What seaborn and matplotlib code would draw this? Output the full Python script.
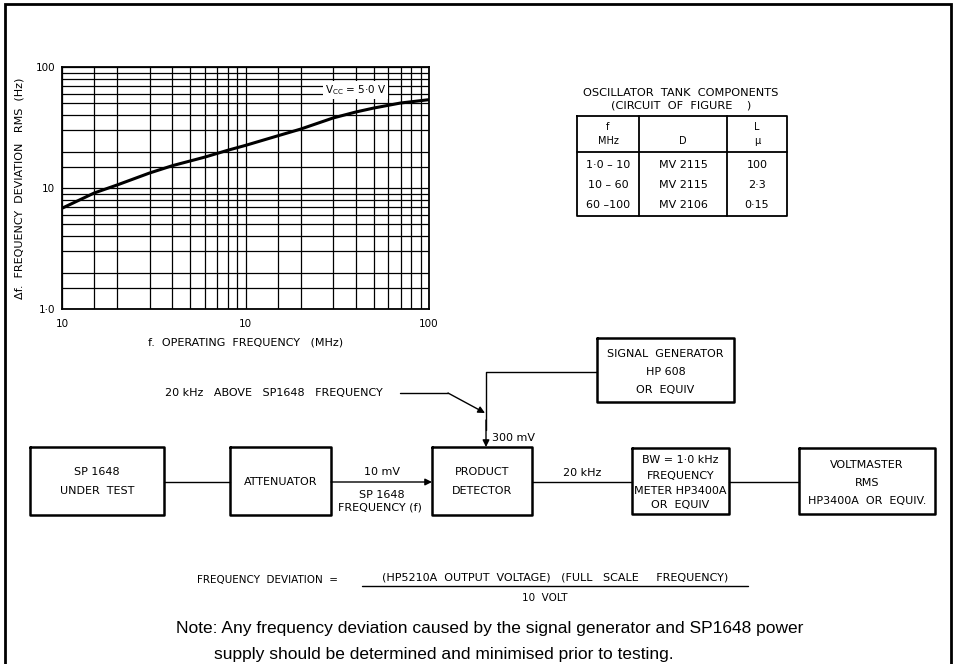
import numpy as np
import pandas as pd
import matplotlib
matplotlib.use("Agg")
import matplotlib.pyplot as plt
import seaborn as sns
from matplotlib.ticker import FixedLocator, NullFormatter

# curve: RMS frequency deviation vs operating frequency
freq_mhz = [1, 1.5, 2, 3, 4, 6, 8, 10, 15, 20, 30, 40, 50, 70, 100]
deviation_hz = [6.8, 9.1, 10.6, 13.3, 15.3, 18.0, 20.5, 22.5, 27.0, 30.7, 37.9, 42.5, 45.8, 50.4, 53.7]

x_tick_labels = ["10", "10", "100"]
y_tick_labels = ["1·0", "10", "100"]

# oscillator tank components table
tank_f = ["1·0 – 10", "10 – 60", "60 –100"]
tank_d = ["MV 2115", "MV 2115", "MV 2106"]
tank_l = ["100", "2·3", "0·15"]

sns.set_style("white")
plt.rcParams["font.family"] = ["DejaVu Sans"]
plt.rcParams["text.color"] = "black"
plt.rcParams["axes.labelcolor"] = "black"
plt.rcParams["xtick.color"] = "black"
plt.rcParams["ytick.color"] = "black"
NOTE_FONT = ["Liberation Sans Narrow", "Liberation Sans", "DejaVu Sans"]

fig = plt.figure(figsize=(9.56, 6.64), dpi=100)

# canvas for the block diagram, in pixel coordinates
ax0 = fig.add_axes([0, 0, 1, 1])
ax0.set_xlim(0, 956)
ax0.set_ylim(664, 0)
ax0.axis("off")

# frame
ax0.plot([5, 5, 951, 951], [664, 4, 4, 664], color="black", lw=2, solid_joinstyle="miter")

# --- graph ---
df = pd.DataFrame({"f": freq_mhz, "dev": deviation_hz})
ax = fig.add_axes([62 / 956, 1 - 309 / 664, (429 - 62) / 956, (309 - 67) / 664])
sns.lineplot(data=df, x="f", y="dev", ax=ax, color="black", lw=2.2)
ax.set_xscale("log")
ax.set_yscale("log")
ax.set_xlim(1, 100)
ax.set_ylim(1, 100)
minor = [m * d for d in (1, 10) for m in (1.5, 2, 3, 4, 5, 6, 7, 8, 9)]
ax.xaxis.set_major_locator(FixedLocator([1, 10, 100]))
ax.yaxis.set_major_locator(FixedLocator([1, 10, 100]))
ax.xaxis.set_minor_locator(FixedLocator(minor))
ax.yaxis.set_minor_locator(FixedLocator(minor))
ax.xaxis.set_minor_formatter(NullFormatter())
ax.yaxis.set_minor_formatter(NullFormatter())
ax.set_xticklabels(x_tick_labels)
ax.set_yticklabels(y_tick_labels)
ax.grid(True, which="both", color="black", lw=0.9)
ax.tick_params(which="both", length=0, labelsize=7.5)
ax.tick_params(axis="x", pad=7)
ax.tick_params(axis="y", pad=5)
for s in ax.spines.values():
    s.set_color("black")
    s.set_linewidth(1.3)
ax.set_xlabel("f.  OPERATING  FREQUENCY   (MHz)", fontsize=8, labelpad=6)
ax.set_ylabel("Δf.  FREQUENCY  DEVIATION   RMS  (Hz)", fontsize=8, labelpad=8)
ax.text(0.80, 0.905, r"$\mathregular{V_{CC}}$ = 5·0 V", transform=ax.transAxes,
        fontsize=7.5, ha="center", va="center",
        bbox=dict(facecolor="white", edgecolor="none", pad=1.5))

# --- table ---
ax0.text(681, 93, "OSCILLATOR  TANK  COMPONENTS", fontsize=8.2, ha="center", va="center")
ax0.text(681, 105, "(CIRCUIT  OF  FIGURE    )", fontsize=8.2, ha="center", va="center")
ax0.plot([577, 787, 787, 577, 577], [116, 116, 216, 216, 116], color="black", lw=1.3)
ax0.plot([577, 787], [152, 152], color="black", lw=1.3)
ax0.plot([639, 639], [116, 216], color="black", lw=1.3)
ax0.plot([727, 727], [116, 216], color="black", lw=1.3)
col_x = [608, 683, 757]
ax0.text(col_x[0], 127, "f", fontsize=7, ha="center", va="center")
ax0.text(col_x[0], 141, "MHz", fontsize=7, ha="center", va="center")
ax0.text(col_x[1], 141, "D", fontsize=7, ha="center", va="center")
ax0.text(col_x[2], 127, "L", fontsize=7, ha="center", va="center")
ax0.text(col_x[2], 141, "μ", fontsize=7, ha="center", va="center")
for i, (a, b, c) in enumerate(zip(tank_f, tank_d, tank_l)):
    y = 165 + 20 * i
    ax0.text(col_x[0], y, a, fontsize=8, ha="center", va="center")
    ax0.text(col_x[1], y, b, fontsize=8, ha="center", va="center")
    ax0.text(col_x[2], y, c, fontsize=8, ha="center", va="center")

# --- block diagram ---
def box(x0, y0, x1, y1, lines, ys):
    ax0.plot([x0, x1, x1, x0, x0], [y0, y0, y1, y1, y0], color="black", lw=1.8)
    for t, y in zip(lines, ys):
        ax0.text((x0 + x1) / 2, y, t, fontsize=8, ha="center", va="center")

box(30, 447, 164, 515, ["SP 1648", "UNDER  TEST"], [472, 491])
box(230, 447, 331, 515, ["ATTENUATOR"], [482])
box(432, 447, 532, 515, ["PRODUCT", "DETECTOR"], [472, 491])
box(632, 448, 729, 514, ["BW = 1·0 kHz", "FREQUENCY", "METER HP3400A", "OR  EQUIV"],
    [460, 476, 491, 505])
box(799, 448, 935, 514, ["VOLTMASTER", "RMS", "HP3400A  OR  EQUIV."], [465, 483, 501])
box(597, 338, 734, 402, ["SIGNAL  GENERATOR", "HP 608", "OR  EQUIV"], [354, 372, 390])

def arrow(x0, y0, x1, y1):
    ax0.annotate("", xy=(x1, y1), xytext=(x0, y0),
                 arrowprops=dict(arrowstyle="-|>", color="black", lw=1, mutation_scale=10,
                                 shrinkA=0, shrinkB=0))

ax0.plot([164, 230], [482, 482], color="black", lw=1)
arrow(331, 482, 432, 482)
ax0.text(382, 472, "10 mV", fontsize=8, ha="center", va="center")
ax0.text(382, 495, "SP 1648", fontsize=8, ha="center", va="center")
ax0.text(380, 508, "FREQUENCY (f)", fontsize=8, ha="center", va="center")
ax0.plot([532, 632], [482, 482], color="black", lw=1)
ax0.text(582, 473, "20 kHz", fontsize=8, ha="center", va="center")
ax0.plot([729, 799], [482, 482], color="black", lw=1)

ax0.plot([597, 486, 486], [372, 372, 430], color="black", lw=1)
arrow(486, 420, 486, 447)
ax0.text(492, 438, "300 mV", fontsize=8, ha="left", va="center")

ax0.text(165, 393, "20 kHz   ABOVE   SP1648   FREQUENCY", fontsize=8, ha="left", va="center")
ax0.plot([400, 448], [393, 393], color="black", lw=1)
arrow(448, 393, 485, 413)

# --- formula and note ---
ax0.text(197, 580, "FREQUENCY  DEVIATION  =", fontsize=7.5, ha="left", va="center")
ax0.text(555, 577, "(HP5210A  OUTPUT  VOLTAGE)   (FULL   SCALE     FREQUENCY)", fontsize=8,
         ha="center", va="center")
ax0.plot([362, 748], [586, 586], color="black", lw=1)
ax0.text(545, 598, "10  VOLT", fontsize=7.5, ha="center", va="center")

ax0.text(176, 629, "Note: Any frequency deviation caused by the signal generator and SP1648 power",
         fontsize=12.5, ha="left", va="center", family=NOTE_FONT)
ax0.text(214, 654, "supply should be determined and minimised prior to testing.",
         fontsize=12.5, ha="left", va="center", family=NOTE_FONT)

fig.savefig("out.png", dpi=100)
